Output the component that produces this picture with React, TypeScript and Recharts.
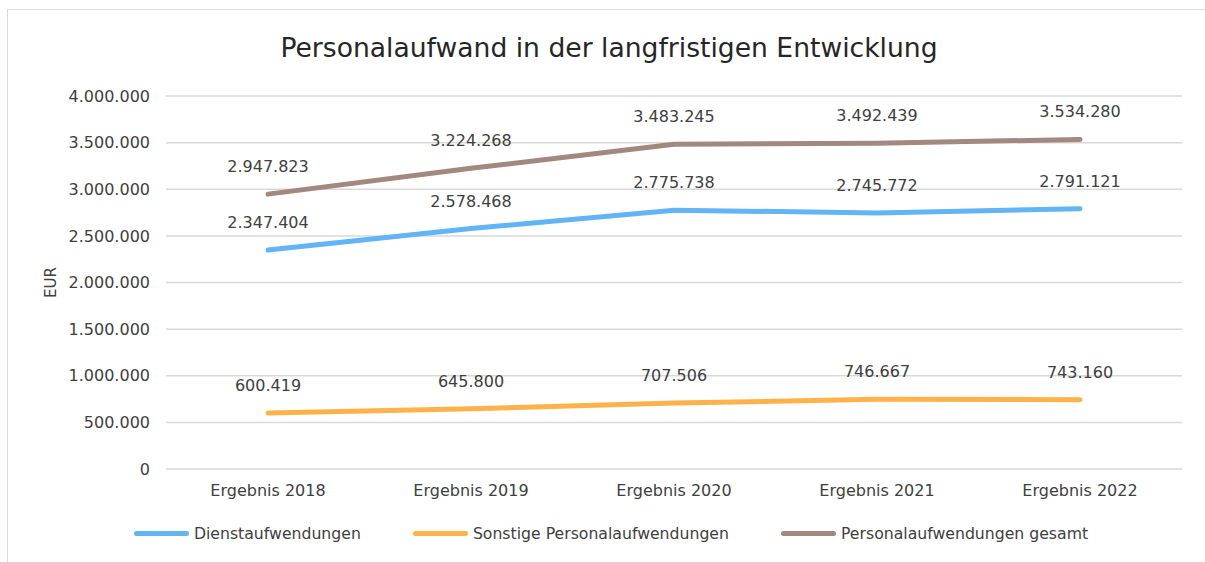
import { CartesianGrid, LabelList, Legend, Line, LineChart, XAxis, YAxis } from "recharts";

const categories = ["Ergebnis 2018", "Ergebnis 2019", "Ergebnis 2020", "Ergebnis 2021", "Ergebnis 2022"];
const dienstaufwendungen = [2347404, 2578468, 2775738, 2745772, 2791121];
const sonstige = [600419, 645800, 707506, 746667, 743160];
const gesamt = [2947823, 3224268, 3483245, 3492439, 3534280];
const yTicks = [0, 500000, 1000000, 1500000, 2000000, 2500000, 3000000, 3500000, 4000000];

const series = [
	{ key: "dienst", name: "Dienstaufwendungen", color: "#62b4f4" },
	{ key: "sonstige", name: "Sonstige Personalaufwendungen", color: "#ffb24a" },
	{ key: "gesamt", name: "Personalaufwendungen gesamt", color: "#a2887f" },
];

const data = categories.map((name, i) => ({
	name,
	dienst: dienstaufwendungen[i],
	sonstige: sonstige[i],
	gesamt: gesamt[i],
}));

const FONT = "'DejaVu Sans', Verdana, sans-serif";
const TEXT = "#404040";

const fmt = (v: number) => String(Math.round(v)).replace(/\B(?=(\d{3})+(?!\d))/g, ".");

function LegendContent() {
	return (
		<div
			style={{
				display: "flex",
				justifyContent: "center",
				alignItems: "center",
				gap: 52,
				fontFamily: FONT,
				fontSize: 15.7,
				color: TEXT,
			}}
		>
			{series.map((s) => (
				<div key={s.key} style={{ display: "flex", alignItems: "center" }}>
					<span
						style={{
							display: "inline-block",
							width: 55,
							height: 5,
							borderRadius: 3,
							background: s.color,
							marginRight: 5,
						}}
					/>
					<span>{s.name}</span>
				</div>
			))}
		</div>
	);
}

export default function App() {
	return (
		<div style={{ position: "fixed", left: 0, top: 0, width: 1205, height: 562, overflow: "hidden", background: "#fff" }}>
			<div
				style={{
					position: "absolute",
					left: 7,
					top: 9,
					width: 1230,
					height: 600,
					border: "1px solid #d9d9d9",
					boxSizing: "border-box",
				}}
			/>
			<div
				style={{
					position: "absolute",
					left: 0,
					top: 31,
					width: 1218,
					textAlign: "center",
					fontFamily: FONT,
					fontSize: 26.6,
					lineHeight: "34px",
					color: "#262626",
				}}
			>
				Personalaufwand in der langfristigen Entwicklung
			</div>
			<div style={{ position: "absolute", left: 0, top: 0 }}>
				<LineChart width={1205} height={562} data={data} margin={{ top: 96, right: 23, bottom: 63, left: 22 }}>
					<CartesianGrid vertical={false} stroke="#d9d9d9" strokeWidth={1.5} />
					<XAxis
						dataKey="name"
						axisLine={false}
						tickLine={false}
						tickMargin={10}
						height={30}
						padding={{ left: 102, right: 102 }}
						tick={{ fill: TEXT, fontFamily: FONT, fontSize: 16 }}
					/>
					<YAxis
						width={144}
						domain={[0, 4000000]}
						ticks={yTicks}
						interval={0}
						axisLine={false}
						tickLine={false}
						tickMargin={10}
						tickFormatter={fmt}
						tick={{ fill: TEXT, fontFamily: FONT, fontSize: 16 }}
						label={{
							value: "EUR",
							angle: -90,
							position: "insideLeft",
							offset: 29,
							style: { fill: TEXT, fontFamily: FONT, fontSize: 15, textAnchor: "middle" },
						}}
					/>
					<Legend
						verticalAlign="middle"
						align="center"
						layout="horizontal"
						content={LegendContent}
						wrapperStyle={{ left: 0, top: 524, width: 1222 }}
					/>
					{series.map((s) => (
						<Line
							key={s.key}
							type="linear"
							dataKey={s.key}
							name={s.name}
							stroke={s.color}
							strokeWidth={5}
							strokeLinecap="round"
							strokeLinejoin="round"
							dot={false}
							activeDot={false}
							isAnimationActive={false}
						>
							<LabelList
								dataKey={s.key}
								position="top"
								offset={22}
								formatter={(v: number) => fmt(v)}
								style={{ fill: TEXT, fontFamily: FONT, fontSize: 16 }}
							/>
						</Line>
					))}
				</LineChart>
			</div>
		</div>
	);
}
